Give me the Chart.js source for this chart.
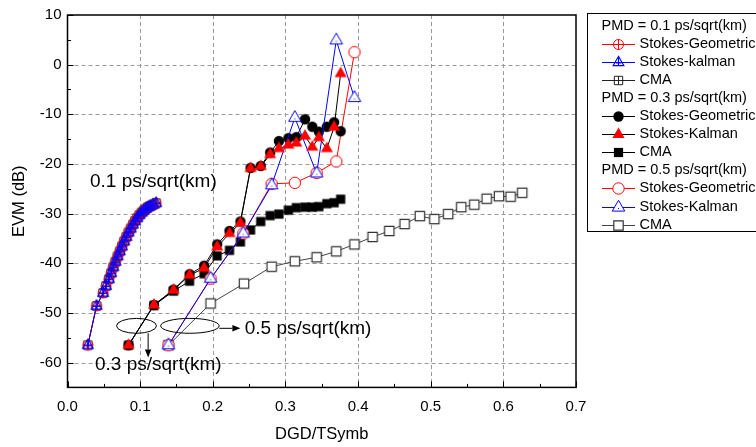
<!DOCTYPE html>
<html><head><meta charset="utf-8">
<script src="https://cdn.jsdelivr.net/npm/chart.js@4/dist/chart.umd.min.js"></script>
<style>html,body{margin:0;padding:0;background:#fff}canvas{display:block}</style>
</head><body>
<canvas id="c" width="756" height="447"></canvas>
<script>
// ---------- data ----------
const groupHeaders = ['PMD = 0.1 ps/sqrt(km)', 'PMD = 0.3 ps/sqrt(km)', 'PMD = 0.5 ps/sqrt(km)'];
const names01 = ['Stokes-Geometric', 'Stokes-kalman', 'CMA'];
const names03 = ['Stokes-Geometric', 'Stokes-Kalman', 'CMA'];
const names05 = ['Stokes-Geometric', 'Stokes-Kalman', 'CMA'];

const pmd01X   = [0.028,0.040,0.049,0.053,0.057,0.060,0.063,0.066,0.069,0.072,0.075,0.078,0.081,0.084,0.087,0.090,0.093,0.096,0.099,0.102,0.105,0.108,0.111,0.114,0.118,0.122];
const pmd01Geo = [-56.5,-48.6,-46.0,-44.6,-43.2,-42.0,-40.8,-39.7,-38.6,-37.6,-36.6,-35.6,-34.7,-33.8,-33.0,-32.2,-31.5,-30.9,-30.3,-29.8,-29.4,-29.0,-28.7,-28.5,-28.2,-27.9];
const pmd01Kal = [-56.5,-48.6,-46.0,-44.6,-43.2,-42.0,-40.8,-39.7,-38.6,-37.6,-36.6,-35.6,-34.7,-33.8,-33.0,-32.2,-31.5,-30.9,-30.3,-29.8,-29.4,-29.0,-28.7,-28.5,-28.2,-27.9];
const pmd01Cma = [-56.5,-48.6,-46.0,-44.6,-43.2,-42.0,-40.8,-39.7,-38.6,-37.6,-36.6,-35.6,-34.7,-33.8,-33.0,-32.2,-31.5,-30.9,-30.3,-29.8,-29.4,-29.0,-28.7,-28.5,-28.2,-27.9];

const pmd03X   = [0.084,0.119,0.146,0.168,0.188,0.206,0.223,0.238,0.252,0.266,0.279,0.291,0.304,0.315,0.327,0.337,0.346,0.357,0.367,0.376];
const pmd03Geo = [-56.5,-48.4,-45.3,-42.2,-40.5,-36.2,-33.5,-31.6,-20.8,-20.4,-17.7,-15.4,-14.8,-14.6,-11.0,-12.5,-13.5,-12.5,-11.6,-13.4];
const pmd03Kal = [-56.5,-48.4,-45.4,-42.4,-41.0,-36.7,-34.0,-31.9,-20.9,-20.5,-18.1,-16.9,-16.2,-15.8,-14.4,-16.6,-14.7,-16.9,-12.6,-1.8];
const pmd03Cma = [-56.5,-48.5,-45.6,-43.6,-42.1,-38.5,-37.4,-35.7,-33.3,-31.6,-30.4,-30.1,-29.3,-28.8,-28.7,-28.7,-28.6,-28.0,-27.8,-27.1];

const pmd05StokesX = [0.139,0.197,0.242,0.281,0.313,0.343,0.370,0.395];
const pmd05Geo = [-56.5,-43.1,-34.0,-24.0,-23.8,-21.8,-19.5,2.5];
const pmd05Kal = [-56.5,-43.1,-34.0,-24.3,-10.7,-21.9,4.9,-6.7];
const pmd05CmaX = [0.139,0.197,0.243,0.281,0.313,0.343,0.370,0.395,0.420,0.443,0.464,0.485,0.505,0.524,0.542,0.560,0.577,0.594,0.610,0.626];
const pmd05Cma  = [-56.5,-48.1,-44.1,-40.7,-39.6,-38.8,-37.6,-36.2,-34.7,-33.5,-32.1,-30.5,-31.1,-30.1,-28.7,-28.2,-27.0,-26.5,-26.6,-25.8];

const annotationTexts = ['0.1 ps/sqrt(km)', '0.3 ps/sqrt(km)', '0.5 ps/sqrt(km)'];

// ---------- styling ----------
const FONT = '"Liberation Sans", Arial, sans-serif';
function zip(xs, ys) { return xs.map((x, i) => ({x: x, y: ys[i]})); }

function drawMarker(ctx, kind, x, y) {
  ctx.save();
  ctx.lineWidth = 1;
  ctx.beginPath();
  switch (kind) {
    case 'circlePlus': {
      const r = 5; ctx.strokeStyle = '#ff0000';
      ctx.arc(x, y, r, 0, Math.PI * 2);
      ctx.moveTo(x - r, y); ctx.lineTo(x + r, y);
      ctx.moveTo(x, y - r); ctx.lineTo(x, y + r);
      ctx.stroke(); break;
    }
    case 'triBar': {
      const r = 6.2; ctx.strokeStyle = '#0000ff'; ctx.lineWidth = 1.1;
      const h = r * Math.sqrt(3) / 2;
      ctx.moveTo(x, y - r); ctx.lineTo(x + h, y + r / 2); ctx.lineTo(x - h, y + r / 2); ctx.closePath();
      ctx.moveTo(x, y - r); ctx.lineTo(x, y + r / 2);
      ctx.moveTo(x - h / 2, y + 0.5); ctx.lineTo(x + h / 2, y + 0.5);
      ctx.stroke(); break;
    }
    case 'squarePlus': {
      const s = 4.2; ctx.strokeStyle = '#222';
      ctx.rect(x - s, y - s, 2 * s, 2 * s);
      ctx.moveTo(x - s, y); ctx.lineTo(x + s, y);
      ctx.moveTo(x, y - s); ctx.lineTo(x, y + s);
      ctx.stroke(); break;
    }
    case 'dot': {
      ctx.fillStyle = '#000';
      ctx.arc(x, y, 5.2, 0, Math.PI * 2); ctx.fill(); break;
    }
    case 'redTri': {
      const r = 7; const h = r * Math.sqrt(3) / 2;
      ctx.fillStyle = '#ff0000';
      ctx.moveTo(x, y - r); ctx.lineTo(x + h, y + r / 2); ctx.lineTo(x - h, y + r / 2); ctx.closePath();
      ctx.fill(); break;
    }
    case 'blackSq': {
      const s = 4.6; ctx.fillStyle = '#000';
      ctx.fillRect(x - s, y - s, 2 * s, 2 * s); break;
    }
    case 'openCircle': {
      ctx.fillStyle = '#fff'; ctx.strokeStyle = '#ff0000';
      ctx.arc(x, y, 5.7, 0, Math.PI * 2); ctx.fill(); ctx.stroke(); break;
    }
    case 'openTri': {
      const r = 7.2; const h = r * Math.sqrt(3) / 2;
      ctx.fillStyle = '#fff'; ctx.strokeStyle = '#0000ff';
      ctx.moveTo(x, y - r); ctx.lineTo(x + h, y + r / 2); ctx.lineTo(x - h, y + r / 2); ctx.closePath();
      ctx.fill(); ctx.stroke();
      ctx.fillStyle = '#0000ff'; ctx.fillRect(x - 0.5, y + 0.5, 1, 1); break;
    }
    case 'openSq': {
      const s = 4.7; ctx.fillStyle = '#fff'; ctx.strokeStyle = '#333'; ctx.lineWidth = 1.2;
      ctx.rect(x - s, y - s, 2 * s, 2 * s); ctx.fill(); ctx.stroke(); break;
    }
  }
  ctx.restore();
}
function markerImage(kind) {
  const c = document.createElement('canvas');
  c.width = 18; c.height = 18;
  drawMarker(c.getContext('2d'), kind, 9, 9);
  return c;
}

function ds(label, data, color, kind, order) {
  return {
    label: label, data: data, showLine: true,
    borderColor: color, backgroundColor: color, borderWidth: 1,
    pointStyle: markerImage(kind), pointRadius: 4, pointHoverRadius: 4,
    order: order, markerKind: kind, clip: false
  };
}

const datasets = [
  ds(names01[0], zip(pmd01X, pmd01Geo), '#ff0000', 'circlePlus', 1),
  ds(names01[1], zip(pmd01X, pmd01Kal), '#0000ff', 'triBar', 0),
  ds(names01[2], zip(pmd01X, pmd01Cma), '#222222', 'squarePlus', 2),
  ds(names03[0], zip(pmd03X, pmd03Geo), '#000000', 'dot', 1),
  ds(names03[1], zip(pmd03X, pmd03Kal), '#000000', 'redTri', 0),
  ds(names03[2], zip(pmd03X, pmd03Cma), '#000000', 'blackSq', 2),
  ds(names05[0], zip(pmd05StokesX, pmd05Geo), '#ff0000', 'openCircle', 1),
  ds(names05[1], zip(pmd05StokesX, pmd05Kal), '#0000ff', 'openTri', 0),
  ds(names05[2], zip(pmd05CmaX, pmd05Cma), '#444444', 'openSq', 3)
];

// ---------- plugins ----------
const framePlugin = {
  id: 'frame',
  beforeDatasetsDraw(chart) {
    const {ctx, chartArea: a, scales: {x, y}} = chart;
    ctx.save();
    ctx.strokeStyle = '#9a9a9a'; ctx.lineWidth = 1; ctx.setLineDash([4, 3]);
    x.ticks.forEach(t => {
      if (t.value <= x.min || t.value >= x.max) return;
      const px = Math.round(x.getPixelForValue(t.value)) + 0.5;
      ctx.beginPath(); ctx.moveTo(px, a.top); ctx.lineTo(px, a.bottom); ctx.stroke();
    });
    y.ticks.forEach(t => {
      if (t.value <= y.min || t.value >= y.max) return;
      const py = Math.round(y.getPixelForValue(t.value)) + 0.5;
      ctx.beginPath(); ctx.moveTo(a.left, py); ctx.lineTo(a.right, py); ctx.stroke();
    });
    ctx.restore();
  },
  afterDatasetsDraw(chart) {
    const {ctx, chartArea: a, scales: {x, y}} = chart;
    ctx.save();
    ctx.strokeStyle = '#000'; ctx.lineWidth = 1.5; ctx.setLineDash([]);
    ctx.strokeRect(a.left, a.top, a.right - a.left, a.bottom - a.top);
    ctx.lineWidth = 1;
    for (let v = 0; v <= 0.7001; v += 0.05) {
      const px = Math.round(x.getPixelForValue(v)) + 0.5;
      const major = Math.abs(v * 10 - Math.round(v * 10)) < 1e-6;
      ctx.beginPath(); ctx.moveTo(px, a.bottom); ctx.lineTo(px, a.bottom - (major ? 6 : 3.5)); ctx.stroke();
    }
    for (let v = -65; v <= 10; v += 5) {
      const py = Math.round(y.getPixelForValue(v)) + 0.5;
      const major = v % 10 === 0;
      ctx.beginPath(); ctx.moveTo(a.left, py); ctx.lineTo(a.left + (major ? 6 : 3.5), py); ctx.stroke();
    }
    ctx.restore();
  }
};

const annotationPlugin = {
  id: 'annot',
  afterDatasetsDraw(chart) {
    const {ctx, scales: {x, y}} = chart;
    const X = v => x.getPixelForValue(v), Y = v => y.getPixelForValue(v);
    ctx.save();
    ctx.fillStyle = '#000'; ctx.strokeStyle = '#000'; ctx.lineWidth = 1;
    ctx.font = '19px ' + FONT; ctx.textBaseline = 'middle'; ctx.textAlign = 'left';
    ctx.fillText(annotationTexts[0], X(0.031), Y(-23.6));
    ctx.fillText(annotationTexts[1], X(0.0378), Y(-60.5));
    ctx.fillText(annotationTexts[2], X(0.244), Y(-53.1));
    const ell = (cx, cy, rx, ry) => {
      ctx.beginPath();
      ctx.ellipse(X(cx), Y(cy), Math.abs(X(cx + rx) - X(cx)), Math.abs(Y(cy + ry) - Y(cy)), 0, 0, Math.PI * 2);
      ctx.stroke();
    };
    ell(0.095, -52.6, 0.0275, 1.5);
    ell(0.1685, -52.6, 0.0403, 1.5);
    const arrow = (x1, y1, x2, y2) => {
      const p1 = [X(x1), Y(y1)], p2 = [X(x2), Y(y2)];
      const ang = Math.atan2(p2[1] - p1[1], p2[0] - p1[0]);
      const L = 8, W = 3.2;
      ctx.beginPath(); ctx.moveTo(p1[0], p1[1]);
      ctx.lineTo(p2[0] - L * Math.cos(ang), p2[1] - L * Math.sin(ang)); ctx.stroke();
      ctx.beginPath();
      ctx.moveTo(p2[0], p2[1]);
      ctx.lineTo(p2[0] - L * Math.cos(ang) - W * Math.sin(ang), p2[1] - L * Math.sin(ang) + W * Math.cos(ang));
      ctx.lineTo(p2[0] - L * Math.cos(ang) + W * Math.sin(ang), p2[1] - L * Math.sin(ang) - W * Math.cos(ang));
      ctx.closePath(); ctx.fill();
    };
    arrow(0.111, -54.1, 0.111, -59.0);
    arrow(0.209, -53.1, 0.238, -53.1);
    ctx.restore();
  }
};

const legendPlugin = {
  id: 'customLegend',
  afterDraw(chart) {
    const {ctx} = chart;
    ctx.save();
    ctx.strokeStyle = '#000'; ctx.lineWidth = 1;
    ctx.strokeRect(587.5, 13.5, 200, 218);
    ctx.font = '14.5px ' + FONT; ctx.textBaseline = 'middle'; ctx.fillStyle = '#000';
    let row = 0;
    const rowY = i => 25.5 + i * 18.1;
    for (let g = 0; g < 3; g++) {
      ctx.fillText(groupHeaders[g], 601.5, rowY(row)); row++;
      for (let k = 0; k < 3; k++) {
        const d = chart.data.datasets[g * 3 + k];
        const yy = Math.round(rowY(row)) + 0.5;
        ctx.strokeStyle = d.borderColor; ctx.lineWidth = 1;
        ctx.beginPath(); ctx.moveTo(602, yy); ctx.lineTo(635, yy); ctx.stroke();
        drawMarker(ctx, d.markerKind, 618.5, yy);
        ctx.fillStyle = '#000';
        ctx.fillText(d.label, 639.5, rowY(row));
        row++;
      }
    }
    ctx.restore();
  }
};

new Chart(document.getElementById('c'), {
  type: 'scatter',
  data: {datasets: datasets},
  options: {
    responsive: false, animation: false, events: [],
    layout: {padding: {left: 0, right: 180, top: 14.6, bottom: 0}},
    plugins: {legend: {display: false}, tooltip: {enabled: false}},
    scales: {
      x: {
        type: 'linear', min: 0, max: 0.7,
        afterFit: s => { s.height = 59.6; },
        grid: {display: false, drawTicks: false}, border: {display: false},
        ticks: {stepSize: 0.1, padding: 10, color: '#000', font: {family: FONT, size: 15},
                callback: v => v.toFixed(1)},
        title: {display: true, text: 'DGD/TSymb', color: '#000', font: {family: FONT, size: 16.5},
                padding: {top: 0, bottom: 3}}
      },
      y: {
        type: 'linear', min: -65, max: 10,
        afterFit: s => { s.width = 67.5; },
        grid: {display: false, drawTicks: false}, border: {display: false},
        ticks: {stepSize: 10, includeBounds: false, padding: 6, color: '#000', font: {family: FONT, size: 15},
                callback: v => (v % 10 === 0 ? String(v) : '')},
        title: {display: true, text: 'EVM (dB)', color: '#000', font: {family: FONT, size: 16.5},
                padding: {top: 10, bottom: 0}}
      }
    }
  },
  plugins: [framePlugin, annotationPlugin, legendPlugin]
});
</script>
</body></html>
